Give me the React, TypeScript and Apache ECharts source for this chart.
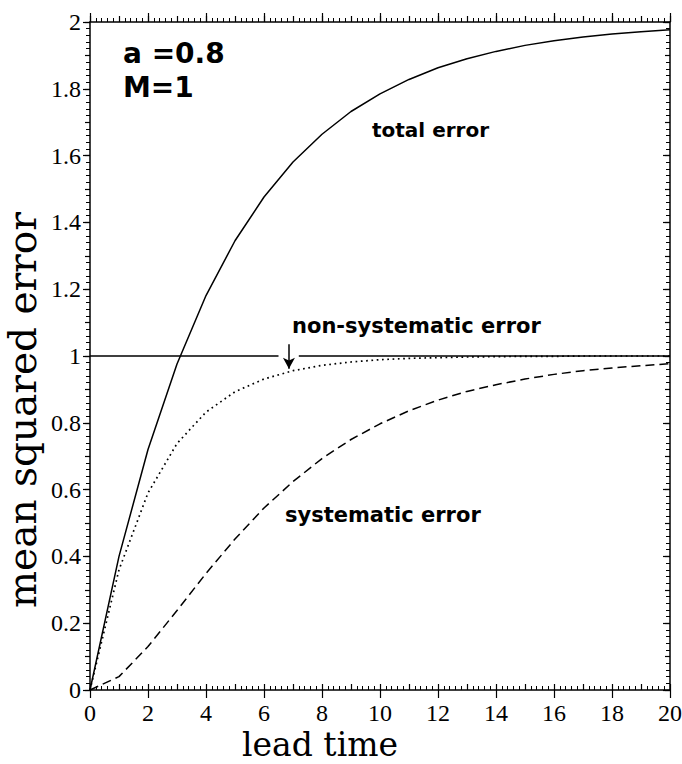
import React, { useEffect, useRef } from 'react';
import * as echarts from 'echarts';

// ---- data ----
const leadTime = [0, 1, 2, 3, 4, 5, 6, 7, 8, 9, 10, 11, 12, 13, 14, 15, 16, 17, 18, 19, 20];
const totalError = [0, 0.4, 0.72, 0.976, 1.181, 1.345, 1.476, 1.581, 1.664, 1.732, 1.785, 1.828, 1.863, 1.89, 1.912, 1.93, 1.944, 1.955, 1.964, 1.971, 1.977];
const nonSystematicError = [0, 0.36, 0.59, 0.738, 0.832, 0.893, 0.931, 0.956, 0.972, 0.982, 0.989, 0.993, 0.995, 0.997, 0.998, 0.999, 0.999, 1.0, 1.0, 1.0, 1.0];
const systematicError = [0, 0.04, 0.13, 0.238, 0.349, 0.452, 0.545, 0.624, 0.693, 0.75, 0.797, 0.836, 0.868, 0.894, 0.914, 0.931, 0.945, 0.956, 0.964, 0.971, 0.977];
const unityX = [0, 6.5, 6.85, 7.2, 20];
const unityY: (number | string)[] = [1, 1, '-', 1, 1];
const xTickLabels = ['0', '2', '4', '6', '8', '10', '12', '14', '16', '18', '20'];
const yTickLabels = ['0', '0.2', '0.4', '0.6', '0.8', '1', '1.2', '1.4', '1.6', '1.8', '2'];
const annotationLines = ['a =0.8', 'M=1'];
const curveLabels = ['total error', 'non-systematic error', 'systematic error'];
const xAxisTitle = 'lead time';
const yAxisTitle = 'mean squared error';
// arrow pointing at the non-systematic curve (data coordinates)
const arrowX = 6.86;
const arrowTop = 1.035;
const arrowTip = 0.962;

export default function App() {
  const ref = useRef<HTMLDivElement>(null);
  useEffect(() => {
    if (!ref.current) return;
    const chart = echarts.init(ref.current, null, { renderer: 'svg' });
    const black = '#000';
    const serif = 'DejaVu Serif';
    const tickFont = 'Liberation Serif';
    const sans = 'DejaVu Sans';
    const off = { show: false };
    const tickStyle = { color: black, width: 1.2 };

    const xBase = (extra: any) => ({
      type: 'value',
      min: 0,
      max: 20,
      gridIndex: 0,
      splitLine: off,
      axisLabel: off,
      axisLine: { show: false, onZero: false },
      ...extra,
    });
    const yBase = (extra: any) => ({
      type: 'value',
      min: 0,
      max: 2,
      gridIndex: 0,
      splitLine: off,
      axisLabel: off,
      axisLine: { show: false, onZero: false },
      ...extra,
    });

    const option: any = {
      animation: false,
      backgroundColor: '#fff',
      grid: { left: 90, right: 12, top: 22, bottom: 74, containLabel: false, outerBoundsMode: 'none' },
      xAxis: [
        xBase({
          position: 'bottom',
          interval: 2,
          axisLine: { show: true, onZero: false, lineStyle: { color: black, width: 1.5 } },
          axisTick: { show: true, inside: false, length: 8, lineStyle: tickStyle },
          axisLabel: {
            show: true,
            margin: 11,
            color: black,
            fontFamily: tickFont,
            fontSize: 24,
            formatter: (_v: number, i: number) => xTickLabels[i] ?? '',
          },
        }),
        xBase({
          position: 'bottom',
          interval: 2,
          axisTick: { show: false, inside: true },
          minorTick: { show: true, splitNumber: 10, length: 4, lineStyle: { color: black, width: 1 } },
        }),
        xBase({
          position: 'bottom',
          interval: 1,
          axisTick: { show: true, inside: true, length: 6, lineStyle: tickStyle },
        }),
        xBase({
          position: 'top',
          interval: 2,
          axisLine: { show: true, onZero: false, lineStyle: { color: black, width: 1.5 } },
          axisTick: { show: true, inside: false, length: 9, lineStyle: tickStyle },
          minorTick: { show: true, splitNumber: 10, length: 4, lineStyle: { color: black, width: 1 } },
        }),
        xBase({
          position: 'top',
          interval: 1,
          axisTick: { show: true, inside: false, length: 6, lineStyle: tickStyle },
        }),
      ],
      yAxis: [
        yBase({
          position: 'left',
          interval: 0.2,
          axisLine: { show: true, onZero: false, lineStyle: { color: black, width: 1.5 } },
          axisTick: { show: true, inside: false, length: 7, lineStyle: tickStyle },
          minorTick: { show: true, splitNumber: 10, length: 4, lineStyle: { color: black, width: 1 } },
          axisLabel: {
            show: true,
            margin: 9,
            color: black,
            fontFamily: tickFont,
            fontSize: 24,
            formatter: (_v: number, i: number) => yTickLabels[i] ?? '',
          },
        }),
        yBase({
          position: 'left',
          interval: 0.1,
          axisTick: { show: true, inside: false, length: 5, lineStyle: tickStyle },
        }),
        yBase({
          position: 'right',
          interval: 0.2,
          axisLine: { show: true, onZero: false, lineStyle: { color: black, width: 1.5 } },
          axisTick: { show: true, inside: true, length: 7, lineStyle: tickStyle },
          minorTick: { show: true, splitNumber: 10, length: 4, lineStyle: { color: black, width: 1 } },
        }),
        yBase({
          position: 'right',
          interval: 0.1,
          axisTick: { show: true, inside: true, length: 5, lineStyle: tickStyle },
        }),
      ],
      series: [
        {
          name: 'total error',
          type: 'line',
          xAxisIndex: 0,
          yAxisIndex: 0,
          data: leadTime.map((t, i) => [t, totalError[i]]),
          symbol: 'none',
          silent: true,
          lineStyle: { color: black, width: 1.5, type: 'solid' },
        },
        {
          name: 'non-systematic error',
          type: 'line',
          xAxisIndex: 0,
          yAxisIndex: 0,
          data: leadTime.map((t, i) => [t, nonSystematicError[i]]),
          symbol: 'none',
          silent: true,
          lineStyle: { color: black, width: 1.7, type: [1.7, 3.6] },
          markLine: {
            silent: true,
            symbol: ['none', 'arrow'],
            symbolSize: [9, 11],
            label: { show: false },
            lineStyle: { color: black, width: 1.5, type: 'solid' },
            data: [[{ coord: [arrowX, arrowTop] }, { coord: [arrowX, arrowTip] }]],
          },
        },
        {
          name: 'systematic error',
          type: 'line',
          xAxisIndex: 0,
          yAxisIndex: 0,
          data: leadTime.map((t, i) => [t, systematicError[i]]),
          symbol: 'none',
          silent: true,
          lineStyle: { color: black, width: 1.5, type: [9, 5] },
        },
        {
          name: 'unity',
          type: 'line',
          xAxisIndex: 0,
          yAxisIndex: 0,
          data: unityX.map((x, i) => [x, unityY[i]]),
          symbol: 'none',
          silent: true,
          connectNulls: false,
          lineStyle: { color: black, width: 1.5, type: 'solid' },
        },
      ],
      graphic: [
        {
          type: 'text',
          x: 123,
          y: 53,
          style: { text: annotationLines[0], fill: black, fontFamily: sans, fontWeight: 'bold', fontSize: 28, textVerticalAlign: 'middle', verticalAlign: 'middle' },
        },
        {
          type: 'text',
          x: 123,
          y: 87,
          style: { text: annotationLines[1], fill: black, fontFamily: sans, fontWeight: 'bold', fontSize: 28, textVerticalAlign: 'middle', verticalAlign: 'middle' },
        },
        {
          type: 'text',
          x: 372,
          y: 130,
          style: { text: curveLabels[0], fill: black, fontFamily: sans, fontWeight: 'bold', fontSize: 20, textVerticalAlign: 'middle', verticalAlign: 'middle' },
        },
        {
          type: 'text',
          x: 292,
          y: 326,
          style: { text: curveLabels[1], fill: black, fontFamily: sans, fontWeight: 'bold', fontSize: 21, textVerticalAlign: 'middle', verticalAlign: 'middle' },
        },
        {
          type: 'text',
          x: 285,
          y: 515,
          style: { text: curveLabels[2], fill: black, fontFamily: sans, fontWeight: 'bold', fontSize: 21, textVerticalAlign: 'middle', verticalAlign: 'middle' },
        },
        {
          type: 'text',
          x: 320,
          y: 744,
          style: { text: xAxisTitle, fill: black, fontFamily: serif, fontSize: 33, textAlign: 'center', align: 'center', textVerticalAlign: 'middle', verticalAlign: 'middle' },
        },
        {
          type: 'text',
          x: 22,
          y: 410,
          rotation: Math.PI / 2,
          style: { text: yAxisTitle, fill: black, fontFamily: serif, fontSize: 39, textAlign: 'center', align: 'center', textVerticalAlign: 'middle', verticalAlign: 'middle' },
        },
      ],
    };
    chart.setOption(option);
    return () => chart.dispose();
  }, []);
  return (
    <div
      ref={ref}
      style={{ position: 'absolute', left: 0, top: 0, width: 682, height: 764, background: '#fff' }}
    />
  );
}
